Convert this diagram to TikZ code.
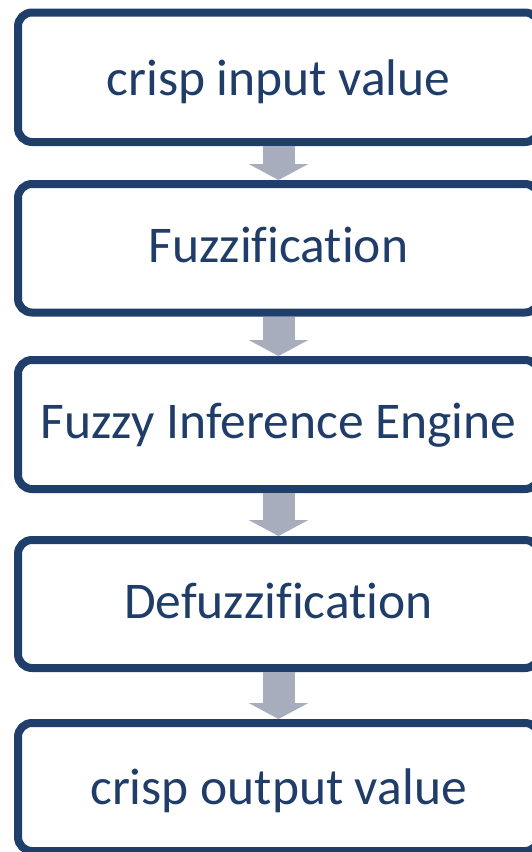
\documentclass[tikz,border=0pt]{standalone}
\usepackage{fontspec}
\setmainfont{Carlito}[Ligatures=NoCommon]
\usetikzlibrary{arrows.meta}
\definecolor{navy}{HTML}{1F3F6A}
\definecolor{txtnavy}{HTML}{1F3D68}
\definecolor{arrowgray}{HTML}{A8ADBD}
\begin{document}
\begin{tikzpicture}[x=1pt,y=-1pt,
  box/.style={draw=navy, line width=8pt, rounded corners=14pt, fill=white,
    minimum width=521pt, inner sep=0pt, text=txtnavy,
    font=\fontsize{51.5}{60}\selectfont, text depth=0pt},
  flow/.style={draw=arrowgray, line width=32pt,
    -{Triangle[width=59pt,length=16pt,fill=arrowgray]}}]
\useasboundingbox (0,0) rectangle (532,852);
\fill[white] (0,0) rectangle (532,852);
\node[box, minimum height=129.5pt, text height=35.5pt] (b1) at (278.5,77.25) {crisp input value};
\node[box, minimum height=128.5pt, text height=27.5pt] (b2) at (278.5,248.25) {Fuzzification};
\node[box, minimum height=129pt, text height=27pt] (b3) at (278.5,424.5) {Fuzzy Inference Engine};
\node[box, minimum height=128pt, text height=28pt] (b4) at (278.5,604) {Defuzzification};
\node[box, minimum height=128pt, text height=34pt] (b5) at (278.5,787) {crisp output value};
\draw[flow] (b1.south) -- (b2.north);
\draw[flow] (b2.south) -- (b3.north);
\draw[flow] (b3.south) -- (b4.north);
\draw[flow] (b4.south) -- (b5.north);
\end{tikzpicture}
\end{document}
